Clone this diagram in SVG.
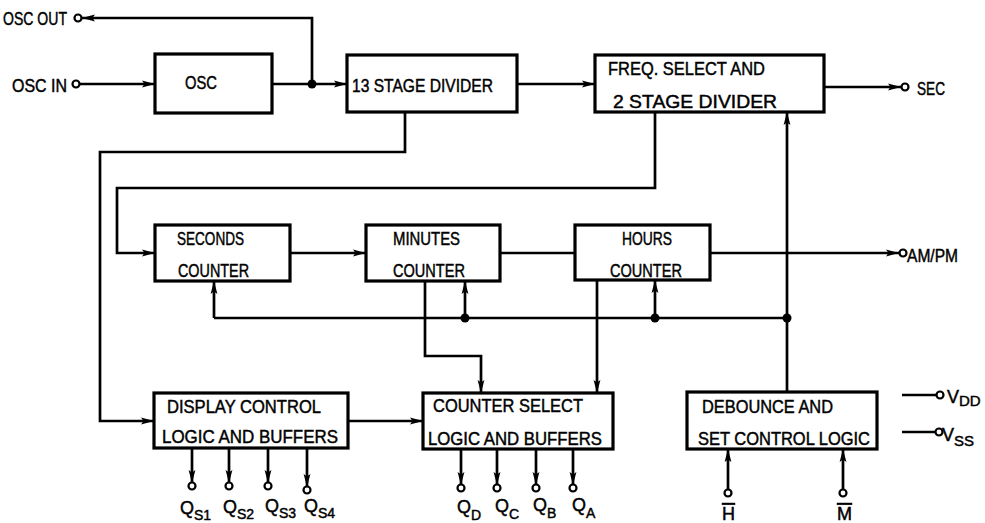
<svg xmlns="http://www.w3.org/2000/svg" width="985" height="523" viewBox="0 0 985 523">
<style>
.box{fill:#fff;stroke:#000;stroke-width:3.2}
.w{fill:none;stroke:#000;stroke-width:2.7;stroke-linejoin:miter}
.a{marker-end:url(#arr)}
.t{font-family:"Liberation Sans",Arial,sans-serif;font-size:18px;fill:#000;stroke:#000;stroke-width:0.45}
.pin{fill:#fff;stroke:#000;stroke-width:2.2}
.dot{fill:#000}
.ol{text-decoration:overline}
</style>
<defs>
<marker id="arr" markerUnits="userSpaceOnUse" markerWidth="15" markerHeight="10" refX="13" refY="5" orient="auto">
<path d="M0,1.6 L13,5 L0,8.4 L2.5,5 Z" fill="#000"/>
</marker>
</defs>
<rect width="985" height="523" fill="#fff"/>

<g id="connectors">
<path class="w a" d="M80,84 H155"/>
<path class="w a" d="M272,84 H347"/>
<path class="w a" d="M312,84 V18 H82"/>
<path class="w a" d="M517,84 H595"/>
<path class="w a" d="M824,87 H901"/>
<path class="w a" d="M655,112 V188 H117 V253 H155"/>
<path class="w a" d="M405,112 V152 H100 V421 H154"/>
<path class="w a" d="M290,253 H366"/>
<path class="w" d="M500,253 H575"/>
<path class="w a" d="M710,253 H899"/>
<path class="w" d="M214,318 H787"/>
<path class="w a" d="M214,318 V281"/>
<path class="w a" d="M465,318 V281"/>
<path class="w a" d="M655,318 V280"/>
<path class="w a" d="M787,392 V112"/>
<path class="w a" d="M425,281 V356 H481 V393"/>
<path class="w a" d="M597,280 V393"/>
<path class="w a" d="M348,421 H423"/>
<path class="w a" d="M192,448 V483"/>
<path class="w a" d="M229,448 V483"/>
<path class="w a" d="M268,448 V483"/>
<path class="w a" d="M307,448 V487"/>
<path class="w a" d="M461,449 V485"/>
<path class="w a" d="M497,449 V485"/>
<path class="w a" d="M536,449 V485"/>
<path class="w a" d="M573,449 V485"/>
<path class="w a" d="M728,490 V449"/>
<path class="w a" d="M843,490 V449"/>
<path class="w" d="M902,395 H937"/>
<path class="w" d="M902,432 H936"/>
<circle class="dot" cx="312" cy="84" r="4.5"/>
<circle class="dot" cx="465" cy="318" r="4.5"/>
<circle class="dot" cx="655" cy="318" r="4.5"/>
<circle class="dot" cx="787" cy="318" r="4.5"/>
</g>

<g id="pins">
<circle class="pin" cx="78" cy="18" r="3.5"/>
<circle class="pin" cx="76" cy="84" r="3.5"/>
<circle class="pin" cx="905" cy="87" r="3.5"/>
<circle class="pin" cx="903" cy="253" r="3.5"/>
<circle class="pin" cx="192" cy="486" r="3.5"/>
<circle class="pin" cx="229" cy="486" r="3.5"/>
<circle class="pin" cx="268" cy="486" r="3.5"/>
<circle class="pin" cx="307" cy="490" r="3.5"/>
<circle class="pin" cx="461" cy="488" r="3.5"/>
<circle class="pin" cx="497" cy="488" r="3.5"/>
<circle class="pin" cx="536" cy="488" r="3.5"/>
<circle class="pin" cx="573" cy="488" r="3.5"/>
<circle class="pin" cx="728" cy="493" r="3.5"/>
<circle class="pin" cx="843" cy="493" r="3.5"/>
<circle class="pin" cx="940" cy="395" r="3.5"/>
<circle class="pin" cx="939" cy="432" r="3.5"/>
</g>

<g id="labels">
<text class="t" x="3" y="25" textLength="64" lengthAdjust="spacingAndGlyphs">OSC OUT</text>
<text class="t" x="12" y="92" textLength="55" lengthAdjust="spacingAndGlyphs">OSC IN</text>
<text class="t" x="917" y="95" textLength="28" lengthAdjust="spacingAndGlyphs">SEC</text>
<text class="t" x="907" y="262" textLength="51" lengthAdjust="spacingAndGlyphs">AM/PM</text>
<text class="t" x="947" y="403" font-size="15">V<tspan font-size="15" dy="3">DD</tspan></text>
<text class="t" x="942" y="441" font-size="15">V<tspan font-size="15" dy="5">SS</tspan></text>
<text class="t" x="180" y="514" font-size="15">Q<tspan font-size="14" dy="6">S1</tspan></text>
<text class="t" x="223" y="513" font-size="15">Q<tspan font-size="14" dy="6">S2</tspan></text>
<text class="t" x="265" y="512" font-size="15">Q<tspan font-size="14" dy="6">S3</tspan></text>
<text class="t" x="304" y="512" font-size="15">Q<tspan font-size="14" dy="6">S4</tspan></text>
<text class="t" x="457" y="513" font-size="15">Q<tspan font-size="14" dy="7">D</tspan></text>
<text class="t" x="495" y="512" font-size="15">Q<tspan font-size="14" dy="7">C</tspan></text>
<text class="t" x="533" y="511" font-size="15">Q<tspan font-size="14" dy="7">B</tspan></text>
<text class="t" x="572" y="511" font-size="15">Q<tspan font-size="14" dy="7">A</tspan></text>
<text class="t ol" x="722" y="520" font-size="15">H</text>
<text class="t ol" x="837" y="520" font-size="15">M</text>
</g>

<g id="osc">
<rect class="box" x="155" y="54" width="117" height="59"/>
<text class="t" x="185" y="89" textLength="32" lengthAdjust="spacingAndGlyphs">OSC</text>
</g>
<g id="stage13">
<rect class="box" x="347" y="55" width="170" height="57"/>
<text class="t" x="352" y="92" textLength="141" lengthAdjust="spacingAndGlyphs">13 STAGE DIVIDER</text>
</g>
<g id="freqselect">
<rect class="box" x="595" y="55" width="229" height="57"/>
<text class="t" x="608" y="75" textLength="157" lengthAdjust="spacingAndGlyphs">FREQ. SELECT AND</text>
<text class="t" x="613" y="108" textLength="164" lengthAdjust="spacingAndGlyphs">2 STAGE DIVIDER</text>
</g>
<g id="seconds">
<rect class="box" x="155" y="225" width="135" height="56"/>
<text class="t" x="177" y="245" textLength="67" lengthAdjust="spacingAndGlyphs">SECONDS</text>
<text class="t" x="178" y="277" textLength="71" lengthAdjust="spacingAndGlyphs">COUNTER</text>
</g>
<g id="minutes">
<rect class="box" x="366" y="225" width="134" height="56"/>
<text class="t" x="393" y="245" textLength="67" lengthAdjust="spacingAndGlyphs">MINUTES</text>
<text class="t" x="393" y="277" textLength="72" lengthAdjust="spacingAndGlyphs">COUNTER</text>
</g>
<g id="hours">
<rect class="box" x="575" y="225" width="135" height="55"/>
<text class="t" x="622" y="245" textLength="50" lengthAdjust="spacingAndGlyphs">HOURS</text>
<text class="t" x="610" y="277" textLength="72" lengthAdjust="spacingAndGlyphs">COUNTER</text>
</g>
<g id="display">
<rect class="box" x="154" y="393" width="194" height="55"/>
<text class="t" x="167" y="413" textLength="154" lengthAdjust="spacingAndGlyphs">DISPLAY CONTROL</text>
<text class="t" x="162" y="443" textLength="176" lengthAdjust="spacingAndGlyphs">LOGIC AND BUFFERS</text>
</g>
<g id="counterselect">
<rect class="box" x="423" y="393" width="190" height="56"/>
<text class="t" x="433" y="412" textLength="150" lengthAdjust="spacingAndGlyphs">COUNTER SELECT</text>
<text class="t" x="428" y="445" textLength="174" lengthAdjust="spacingAndGlyphs">LOGIC AND BUFFERS</text>
</g>
<g id="debounce">
<rect class="box" x="687" y="392" width="190" height="57"/>
<text class="t" x="702" y="413" textLength="131" lengthAdjust="spacingAndGlyphs">DEBOUNCE AND</text>
<text class="t" x="698" y="445" textLength="172" lengthAdjust="spacingAndGlyphs">SET CONTROL LOGIC</text>
</g>
</svg>
